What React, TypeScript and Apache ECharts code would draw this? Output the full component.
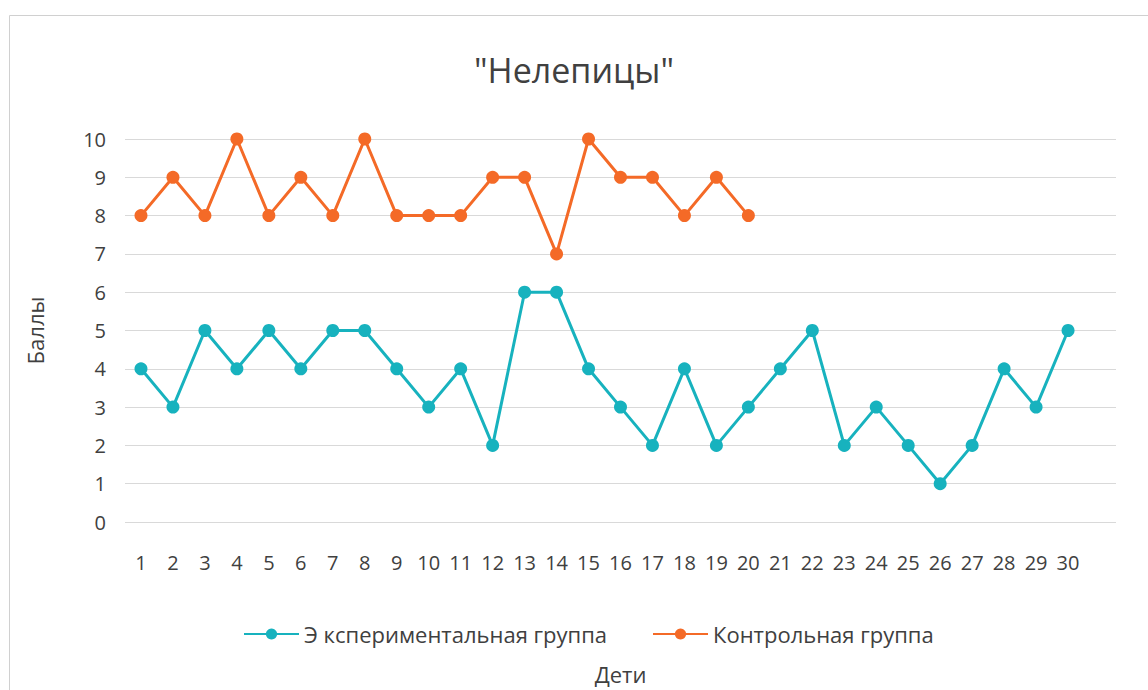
import React, { useEffect, useRef } from "react";
import * as echarts from "echarts";

const categories = ["1","2","3","4","5","6","7","8","9","10","11","12","13","14","15","16","17","18","19","20","21","22","23","24","25","26","27","28","29","30",""];
const experimental = [4,3,5,4,5,4,5,5,4,3,4,2,6,6,4,3,2,4,2,3,4,5,2,3,2,1,2,4,3,5];
const control = [8,9,8,10,8,9,8,10,8,8,8,9,9,7,10,9,9,8,9,8];
const seriesNames = ["Э кспериментальная группа", "Контрольная группа"];

const FONT = "'Open Sans', 'Noto Sans', sans-serif";
const TEXT = "#404040";

export default function App() {
  const ref = useRef<HTMLDivElement>(null);
  useEffect(() => {
    if (!ref.current) return;
    const chart = echarts.init(ref.current, null, { renderer: "svg" });
    chart.setOption({
      animation: false,
      textStyle: { fontFamily: FONT },
      title: {
        text: '"Нелепицы"',
        left: "center",
        top: 48,
        textStyle: { fontFamily: FONT, fontSize: 34, fontWeight: "normal", color: TEXT },
      },
      graphic: [
        {
          type: "rect",
          shape: { x: 9.5, y: 15.5, width: 1200, height: 700 },
          style: { fill: "none", stroke: "#d0d0d0", lineWidth: 1 },
          silent: true,
          z: -10,
        },
      ],
      legend: {
        top: 618,
        left: 238,
        itemGap: 45,
        itemWidth: 55,
        itemHeight: 14,
        textStyle: { fontFamily: FONT, fontSize: 22, color: TEXT },
        data: seriesNames,
      },
      grid: { left: 125, right: 32, top: 139, bottom: 168, outerBoundsMode: "none", containLabel: false },
      xAxis: {
        type: "category",
        data: categories,
        boundaryGap: true,
        name: "Дети",
        nameLocation: "middle",
        nameGap: 141,
        nameTextStyle: { fontFamily: FONT, fontSize: 22, color: TEXT },
        axisLine: { show: false },
        axisTick: { show: false },
        axisLabel: { interval: 0, fontSize: 20, color: TEXT, margin: 30, fontFamily: FONT },
      },
      yAxis: {
        type: "value",
        min: 0,
        max: 10,
        interval: 1,
        name: "Баллы",
        nameLocation: "middle",
        nameGap: 79,
        nameTextStyle: { fontFamily: FONT, fontSize: 22, color: TEXT },
        axisLine: { show: false },
        axisTick: { show: false },
        axisLabel: { fontSize: 20, color: TEXT, margin: 19, fontFamily: FONT },
        splitLine: { lineStyle: { color: "#d9d9d9", width: 1 } },
      },
      series: [
        {
          name: seriesNames[0],
          type: "line",
          data: experimental,
          symbol: "circle",
          symbolSize: 13,
          itemStyle: { color: "#17B2BE" },
          lineStyle: { color: "#17B2BE", width: 3 },
        },
        {
          name: seriesNames[1],
          type: "line",
          data: control,
          symbol: "circle",
          symbolSize: 13,
          itemStyle: { color: "#F46A27" },
          lineStyle: { color: "#F46A27", width: 3 },
        },
      ],
    });
    return () => chart.dispose();
  }, []);
  return (
    <div
      ref={ref}
      style={{ position: "absolute", left: 0, top: 0, width: 1148, height: 690, background: "#fff" }}
    />
  );
}
